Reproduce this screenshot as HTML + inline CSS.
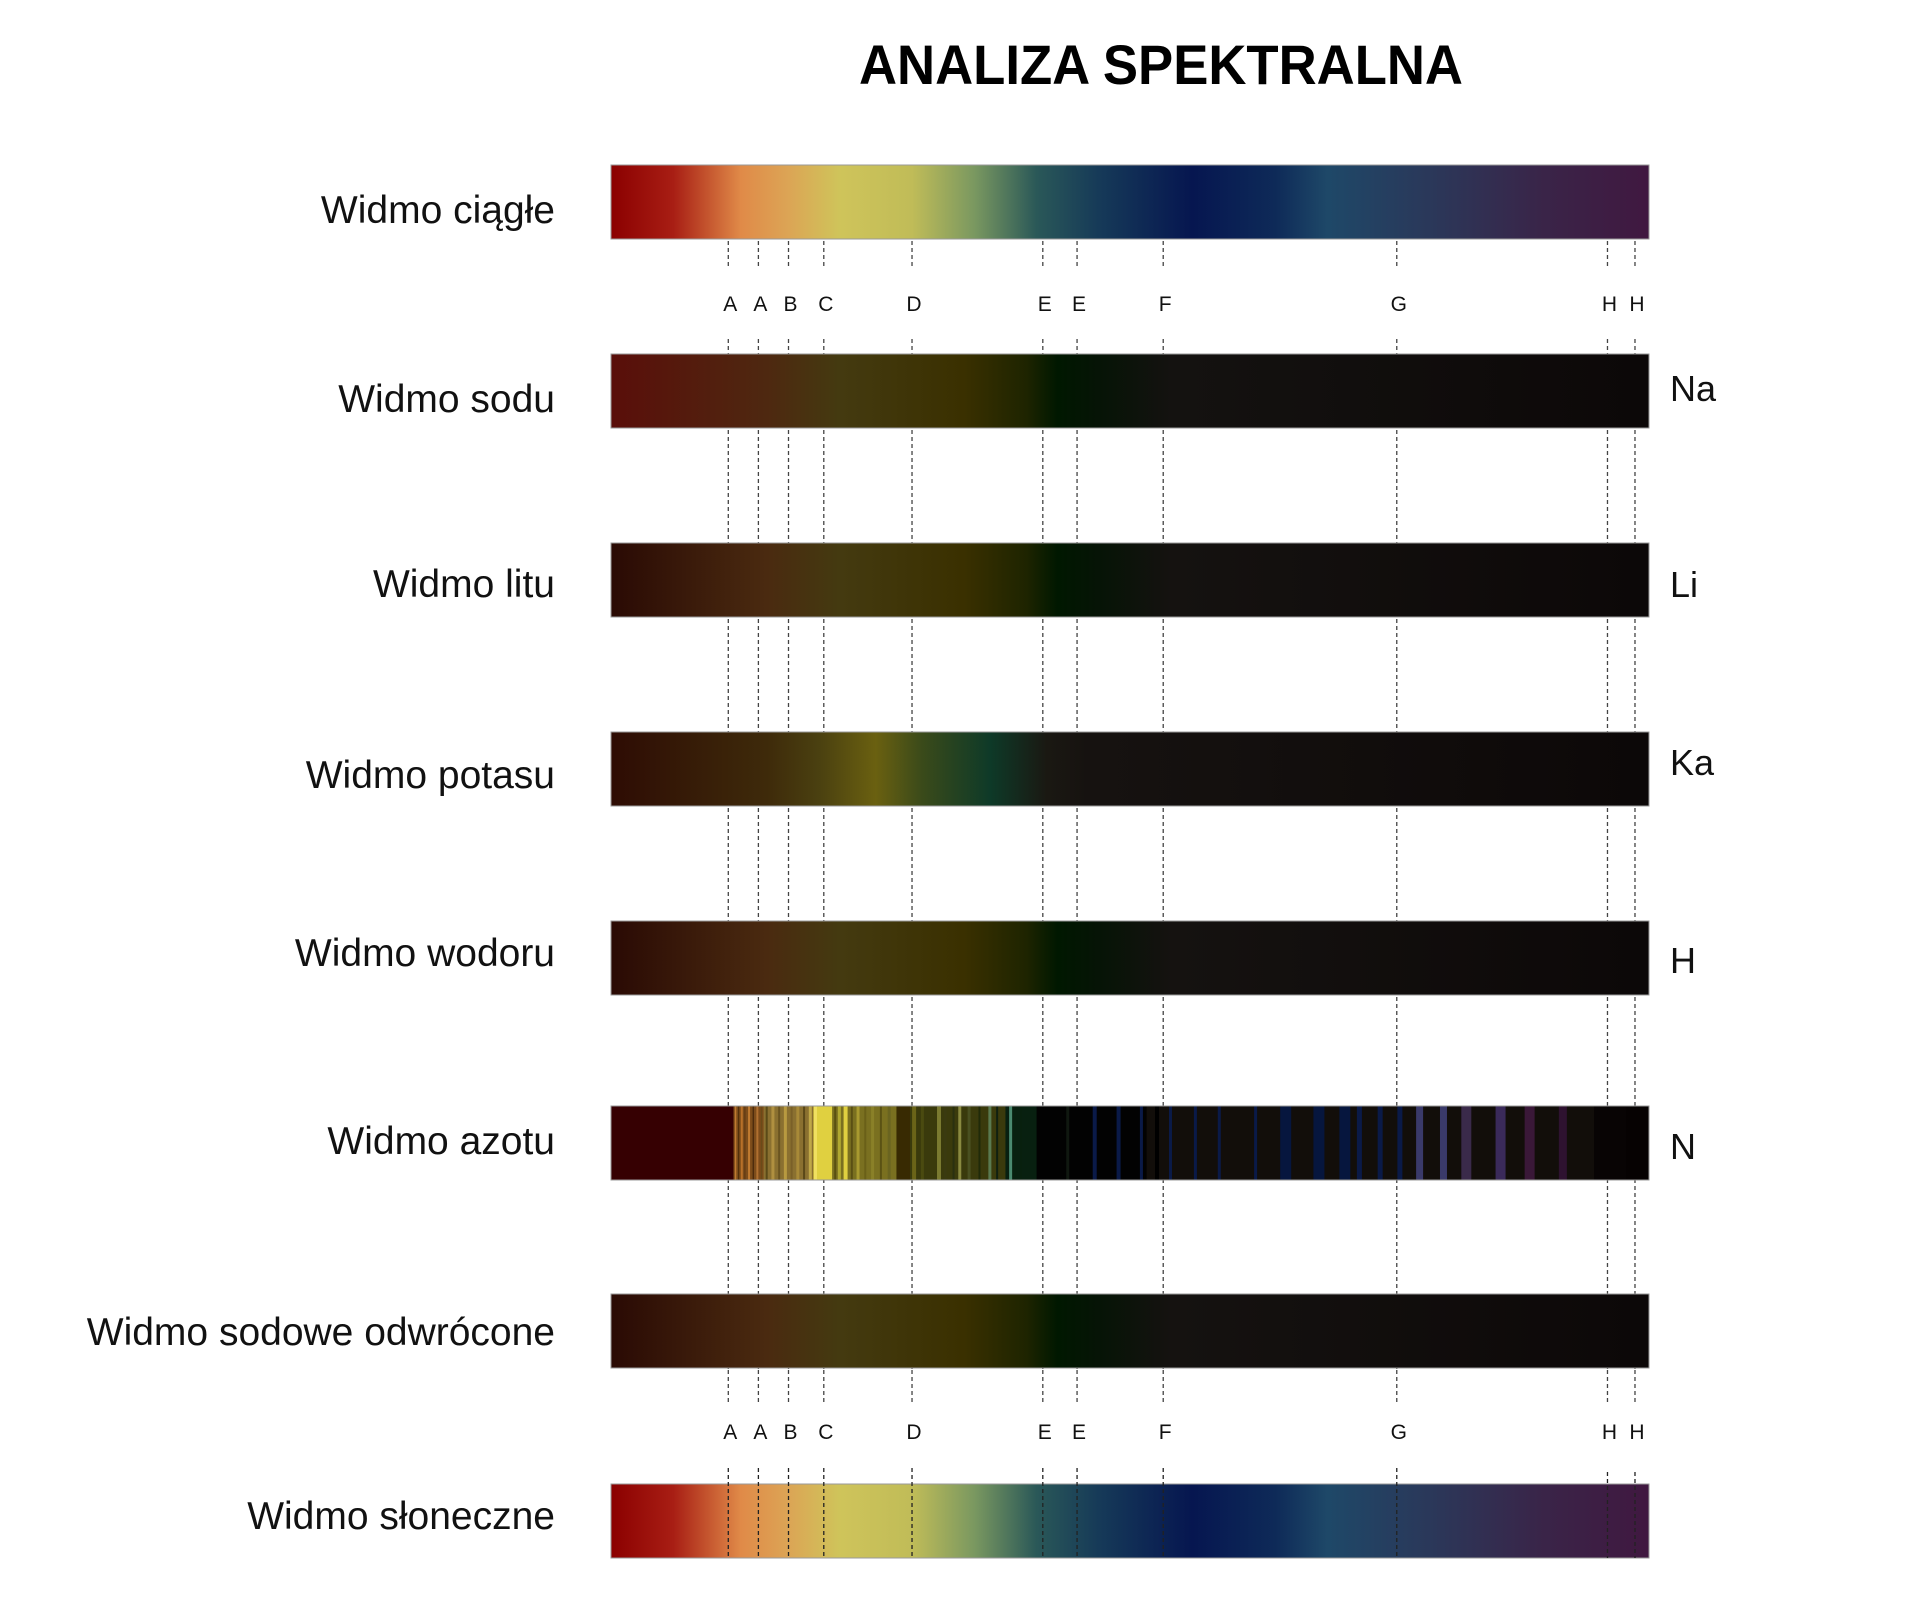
<!DOCTYPE html>
<html><head><meta charset="utf-8"><style>
html,body{margin:0;padding:0;background:#fff;}
svg{display:block;font-family:"Liberation Sans",sans-serif;}
</style></head><body>
<svg id="chart" width="1910" height="1600" viewBox="0 0 1910 1600" xmlns="http://www.w3.org/2000/svg">
<defs id="defs"></defs>
<text x="1161" y="84" text-anchor="middle" font-size="56" font-weight="bold" textLength="604" lengthAdjust="spacingAndGlyphs" fill="#000">ANALIZA SPEKTRALNA</text>
<g id="dashes"></g>
<g id="bars"></g>
<g id="over"></g>
<g id="labels"></g>
</svg>
<script>
// ---- data ----
const spectrumNames = ["Widmo ciągłe","Widmo sodu","Widmo litu","Widmo potasu","Widmo wodoru","Widmo azotu","Widmo sodowe odwrócone","Widmo słoneczne"];
const elementSymbols = ["","Na","Li","Ka","H","N","",""];
const fraunhoferLetters = ["A","A","B","C","D","E","E","F","G","H","H"];
const fraunhoferPos = [113,142,171,205,290,416,449,532,757,960,986.5]; // 0..1000 along spectrum
const continuousStops = [[0,"#8b0000"],[60,"#a81e14"],[125,"#e08a48"],[170,"#dca455"],[220,"#cfc45a"],[290,"#c0bc58"],[350,"#7a9860"],[410,"#2a5858"],[470,"#163a58"],[560,"#061650"],[640,"#0e2a58"],[690,"#1e4868"],[800,"#2c3658"],[900,"#3a2448"],[1000,"#401840"]];
const sodiumStops = [[0,"#5a0e0a"],[150,"#4e2810"],[220,"#443a10"],[340,"#3a3000"],[400,"#1e2400"],[430,"#001800"],[470,"#061406"],[540,"#141210"],[1000,"#0c0808"]];
const lithiumStops = [[0,"#2a0a04"],[150,"#4a2a10"],[220,"#443a10"],[340,"#3a3000"],[400,"#1e2400"],[430,"#001800"],[470,"#061406"],[540,"#151210"],[1000,"#0c0808"]];
const potassiumStops = [[0,"#2e0c04"],[150,"#3e2a0a"],[200,"#4a4010"],[255,"#6a6010"],[300,"#3a4a1a"],[365,"#0e3a28"],[420,"#1a1812"],[460,"#161210"],[1000,"#0c0808"]];
const hydrogenStops = lithiumStops;
const reversedStops = lithiumStops;
// nitrogen: base bands and emission lines
const nBandStart = [0,118,147,195,213,275,288,380,410,516,947,978];
const nBandEnd   = [118,147,195,213,275,288,380,410,516,947,978,1000];
const nBandColor = ["#360002","#7c4c1a","#8a7030","#e0d040","#7a7020","#382a02","#3a3a0c","#082010","#020202","#120e0a","#080404","#060202"];
const nLinePos   = [120,123,126,129,133,137,141,145,150,156,162,168,174,180,186,192,197,216,220,226,232,238,245,252,260,268,292,300,316,322,330,336,345,355,365,372,385,395,440,466,489,511,526,539,563,586,621,650,682,707,721,741,760,779,802,824,857,885,917];
const nLineWidth = [1.5,1,2,1,2,1,2,1.5,2,3,2,3,2,3,2,3,3,2,3,4,2,3,2,3,2,3,4,3,4,3,2,3,3,2,3,2,3,2,3,4,4,3,4,3,3,3,3,11,11,11,5,5,5,7,7,10,10,10,8];
const nLineColor = ["#c07a30","#4a2a08","#b87028","#5a3410","#c07a30","#3a2008","#b07030","#6a4a18","#5a4a18","#b09040","#6a5420","#b89a40","#7a6028","#a88a38","#5a4818","#c0a848","#f0e060","#5a5010","#b0a830","#e0d040","#5a5014","#a89a30","#6a6018","#8a8028","#5a5214","#6a6420","#6a6418","#4a4a10","#7a7a30","#3a3a10","#2a3010","#8a8a40","#4a5020","#202a08","#5a7a50","#102010","#4a8a70","#08200e","#101810","#0a1a48","#0a1a48","#0a1a48","#000000","#0a1a48","#0a1a48","#0a1a48","#0a1a48","#06163e","#06163e","#06163e","#0a1a48","#0a1a48","#0a1a48","#3a3a6a","#3a3a6a","#3a2a4a","#3a2a5a","#3a1838","#2e1230"];

// ---- layout ----
const X0 = 611, W = 1038, BH = 74;
const barTops = [165,354,543,732,921,1106,1294,1484];
const labelY = [210,399,584,775,953,1141,1332,1516];
const symY = [0,388,584,762,960,1146,0,0];
const xs = u => X0 + u / 1000 * W;
const NS = "http://www.w3.org/2000/svg";
function mk(tag, attrs, parent){ const e=document.createElementNS(NS,tag); for(const k in attrs) e.setAttribute(k,attrs[k]); parent.appendChild(e); return e; }
const defs=document.getElementById('defs'), bars=document.getElementById('bars'), dashes=document.getElementById('dashes'), over=document.getElementById('over'), labels=document.getElementById('labels');
function grad(id, stops){ const g=mk('linearGradient',{id:id,x1:'0',x2:'1',y1:'0',y2:'0'},defs); stops.forEach(s=>mk('stop',{offset:(s[0]/10)+'%','stop-color':s[1]},g)); }
const stopSets=[continuousStops,sodiumStops,lithiumStops,potassiumStops,hydrogenStops,null,reversedStops,continuousStops];
const barNames=["continuous-spectrum-bar","sodium-spectrum-bar","lithium-spectrum-bar","potassium-spectrum-bar","hydrogen-spectrum-bar","nitrogen-spectrum-bar","reversed-sodium-spectrum-bar","solar-spectrum-bar"];

fraunhoferPos.forEach((p,i)=>{
  const x=xs(p);
  [[241,267],[339,1369],[1370,1402]].forEach(seg=>{
    const l=mk('line',{x1:x,x2:x,y1:seg[0],y2:seg[1],stroke:'#444','stroke-width':1.3,'stroke-dasharray':'4,3'},dashes);
    
    
  });
  const l2=mk('line',{x1:x,x2:x,y1:(i>=9?1472:1468),y2:1558,stroke:'#222','stroke-width':1.3,'stroke-dasharray':'4,3'},over);
  
  
  [303,1431].forEach(ty=>{
    const t=mk('text',{x:x+2,y:ty+8,'text-anchor':'middle','font-size':21,fill:'#111'},labels);
    t.textContent=fraunhoferLetters[i];
    
    
  });
});

stopSets.forEach((s,i)=>{
  let r;
  if(s){ grad('g'+i,s); r=mk('rect',{x:X0,y:barTops[i],width:W,height:BH,fill:'url(#g'+i+')',stroke:'#999','stroke-width':1},bars); }
  else {
    const g=mk('g',{},bars);
    
    
    nBandStart.forEach((st,j)=>{
      const b=mk('rect',{x:xs(st),y:barTops[i],width:xs(nBandEnd[j])-xs(st)+0.5,height:BH,fill:nBandColor[j]},g);
      
      
    });
    nLinePos.forEach((p,j)=>{
      const w=nLineWidth[j];
      const ln=mk('rect',{x:xs(p)-w/2,y:barTops[i],width:w,height:BH,fill:nLineColor[j]},g);
      
      
    });
    r=mk('rect',{x:X0,y:barTops[i],width:W,height:BH,fill:'none',stroke:'#999','stroke-width':1},bars);
  }
  
  
  const t=mk('text',{x:555,y:labelY[i]+13,'text-anchor':'end','font-size':39,fill:'#111'},labels);
  t.textContent=spectrumNames[i];
  
  
  if(elementSymbols[i]){
    const e=mk('text',{x:1670,y:symY[i]+13,'font-size':36,fill:'#111'},labels);
    e.textContent=elementSymbols[i];
    
    
  }
});
</script>
</body></html>
